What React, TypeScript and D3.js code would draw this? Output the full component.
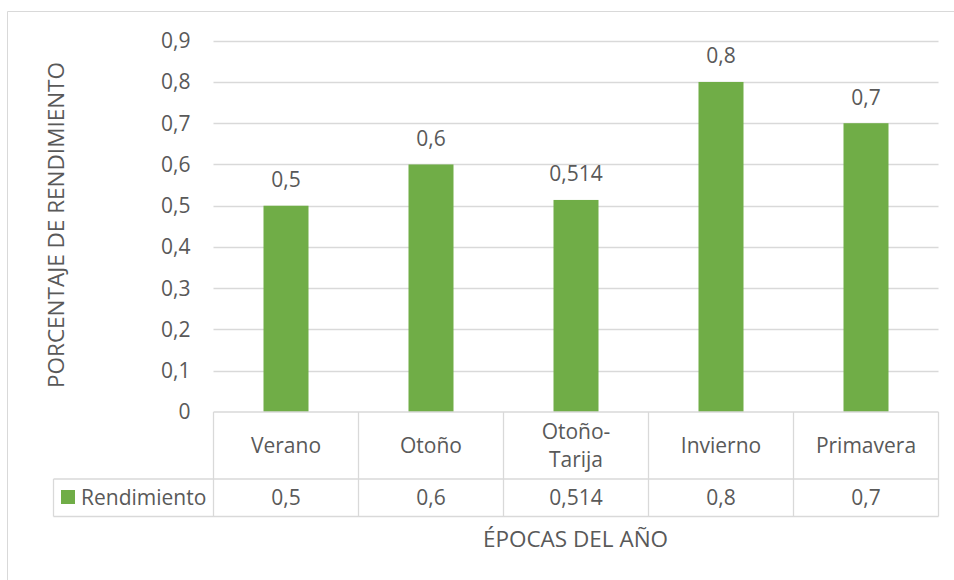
import React from "react";
import * as d3 from "d3";

const categories = ["Verano", "Otoño", "Otoño-Tarija", "Invierno", "Primavera"];
const values = [0.5, 0.6, 0.514, 0.8, 0.7];
const yTicks = [0, 0.1, 0.2, 0.3, 0.4, 0.5, 0.6, 0.7, 0.8, 0.9];
const seriesName = "Rendimiento";
const yTitle = "PORCENTAJE DE RENDIMIENTO";
const xTitle = "ÉPOCAS DEL AÑO";

const W = 954;
const H = 580;
const FONT = "'Open Sans', 'Noto Sans', sans-serif";
const TXT = "#595959";
const GRID = "#d9d9d9";
const BAR = "#70ad47";
const FS = 21;
const FT = 22.5;

const fmt = (v: number) => String(v).replace(".", ",");

export default function App() {
  const left = 213.5;
  const right = 938.5;
  const top = 40.7;
  const zeroY = 412;
  const y = d3.scaleLinear().domain([0, 0.9]).range([zeroY, top]);
  const x = d3.scaleBand<string>().domain(categories).range([left, right]).padding(0);
  const bw = x.bandwidth();
  const barW = 45;
  const row1Bottom = 479;
  const row2Bottom = 516.5;
  const legendLeft = 53.5;

  const wrap = (s: string) => {
    const i = s.indexOf("-");
    return i >= 0 ? [s.slice(0, i + 1), s.slice(i + 1)] : [s];
  };

  return (
    <svg width={W} height={H} style={{ position: "absolute", left: 0, top: 0, background: "#fff" }} fontFamily={FONT}>
      <rect x={0} y={0} width={W} height={H} fill="#fff" />
      <path d={`M7.5,${H + 5} V11.5 H${W + 5}`} fill="none" stroke={GRID} strokeWidth={1} />
      {yTicks.map((t) =>
        t === 0 ? null : (
          <line key={t} x1={left} x2={right} y1={Math.round(y(t)) + 0.5} y2={Math.round(y(t)) + 0.5} stroke={GRID} strokeWidth={1.3} />
        )
      )}
      {yTicks.map((t) => (
        <text key={"l" + t} x={190.5} y={y(t)} dy="0.35em" textAnchor="end" fontSize={FS} fill={TXT}>
          {fmt(t)}
        </text>
      ))}
      {categories.map((c, i) => (
        <rect key={c} x={x(c)! + bw / 2 - barW / 2} y={y(values[i])} width={barW} height={zeroY - y(values[i])} fill={BAR} />
      ))}
      {categories.map((c, i) => (
        <text key={"v" + c} x={x(c)! + bw / 2} y={y(values[i]) - 18.5} textAnchor="middle" fontSize={FS} fill={TXT}>
          {fmt(values[i])}
        </text>
      ))}
      <g stroke={GRID} strokeWidth={1.3} fill="none">
        <line x1={left} x2={right} y1={zeroY} y2={zeroY} />
        <line x1={legendLeft} x2={right} y1={row1Bottom} y2={row1Bottom} />
        <line x1={legendLeft} x2={right} y1={row2Bottom} y2={row2Bottom} />
        <line x1={legendLeft} x2={legendLeft} y1={row1Bottom} y2={row2Bottom} />
        {categories.map((c) => (
          <line key={"b" + c} x1={x(c)!} x2={x(c)!} y1={zeroY} y2={row2Bottom} />
        ))}
        <line x1={right} x2={right} y1={zeroY} y2={row2Bottom} />
      </g>
      {categories.map((c) => {
        const lines = wrap(c);
        const cy = (zeroY + row1Bottom) / 2;
        const lh = 28.5;
        return (
          <text key={"c" + c} textAnchor="middle" fontSize={FS} fill={TXT}>
            {lines.map((ln, j) => (
              <tspan key={j} x={x(c)! + bw / 2} y={cy + (j - (lines.length - 1) / 2) * lh} dy="0.35em">
                {ln}
              </tspan>
            ))}
          </text>
        );
      })}
      {categories.map((c, i) => (
        <text key={"t" + c} x={x(c)! + bw / 2} y={(row1Bottom + row2Bottom) / 2} dy="0.35em" textAnchor="middle" fontSize={FS} fill={TXT}>
          {fmt(values[i])}
        </text>
      ))}
      <rect x={61} y={490} width={14} height={14} fill={BAR} />
      <text x={81} y={(row1Bottom + row2Bottom) / 2} dy="0.35em" fontSize={FS} fill={TXT}>
        {seriesName}
      </text>
      <text transform={`translate(${56.5},${225}) rotate(-90)`} dy="0.35em" textAnchor="middle" fontSize={FT} fill={TXT}>
        {yTitle}
      </text>
      <text x={575.5} y={539} dy="0.35em" textAnchor="middle" fontSize={FT} fill={TXT}>
        {xTitle}
      </text>
    </svg>
  );
}
